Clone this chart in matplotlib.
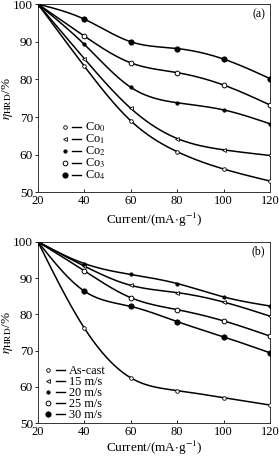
import numpy as np
import matplotlib
matplotlib.use("Agg")
import matplotlib.pyplot as plt
from matplotlib.lines import Line2D
from matplotlib.legend_handler import HandlerTuple

plt.rcParams['font.family'] = ['Liberation Serif', 'DejaVu Serif']
plt.rcParams['mathtext.fontset'] = 'stix'

current = [20, 40, 60, 80, 100, 120]

# Panel (a)
labels_a = ['Co$_0$', 'Co$_1$', 'Co$_2$', 'Co$_3$', 'Co$_4$']
co0 = [100, 83.5, 69.0, 60.8, 56.2, 53.0]
co1 = [100, 85.5, 72.3, 64.3, 61.3, 59.8]
co2 = [100, 89.3, 77.9, 73.8, 71.9, 68.2]
co3 = [100, 91.5, 84.4, 81.8, 78.5, 73.2]
co4 = [100, 96.0, 90.0, 88.2, 85.4, 80.2]
series_a = [co0, co1, co2, co3, co4]

# Panel (b)
labels_b = ['As-cast', '15 m/s', '20 m/s', '25 m/s', '30 m/s']
ascast = [100, 76.2, 62.5, 59.0, 57.0, 55.0]
v15 = [100, 93.3, 88.0, 86.0, 83.4, 79.5]
v20 = [100, 94.0, 91.0, 88.5, 84.8, 82.3]
v25 = [100, 92.0, 84.6, 81.3, 78.2, 74.0]
v30 = [100, 86.4, 82.2, 78.0, 73.8, 69.4]
series_b = [ascast, v15, v20, v25, v30]

xticks = [20, 40, 60, 80, 100, 120]
yticks = [50, 60, 70, 80, 90, 100]

markers = [dict(marker='o', ms=2.6, mfc='white', mec='black', mew=0.6),
           dict(marker='<', ms=2.8, mfc='white', mec='black', mew=0.6),
           dict(marker='o', ms=2.4, mfc='black', mec='black', mew=0.6),
           dict(marker='o', ms=3.4, mfc='white', mec='black', mew=0.7),
           dict(marker='o', ms=3.8, mfc='black', mec='black', mew=0.6)]


def spline(x, y, n=200):
    # natural cubic spline used only to draw the smooth connecting line
    x = np.asarray(x, float); y = np.asarray(y, float)
    m = len(x); h = np.diff(x)
    A = np.zeros((m, m)); b = np.zeros(m)
    A[0, 0] = A[-1, -1] = 1
    for i in range(1, m - 1):
        A[i, i - 1] = h[i - 1]; A[i, i] = 2 * (h[i - 1] + h[i]); A[i, i + 1] = h[i]
        b[i] = 3 * ((y[i + 1] - y[i]) / h[i] - (y[i] - y[i - 1]) / h[i - 1])
    c = np.linalg.solve(A, b)
    xs = np.linspace(x[0], x[-1], n)
    idx = np.clip(np.searchsorted(x, xs) - 1, 0, m - 2)
    dx = xs - x[idx]
    bb = (y[1:] - y[:-1]) / h - h * (2 * c[:-1] + c[1:]) / 3
    d = (c[1:] - c[:-1]) / (3 * h)
    ys = y[idx] + bb[idx] * dx + c[idx] * dx ** 2 + d[idx] * dx ** 3
    return xs, ys


fig = plt.figure(figsize=(2.79, 4.58), dpi=100)
ax_a = fig.add_axes([0.136, 0.580, 0.832, 0.411])
ax_b = fig.add_axes([0.136, 0.076, 0.832, 0.396])

panels = [(ax_a, series_a, labels_a, '(a)', (0.095, 0.38), -0.12, -0.098),
          (ax_b, series_b, labels_b, '(b)', (0.025, 0.32), -0.08, -0.088)]

for ax, series, labels, tag, legpos, lsp, xly in panels:
    handles = []
    for s, lab, mk in zip(series, labels, markers):
        xs, ys = spline(current, s)
        ax.plot(xs, ys, color='black', lw=1.1, zorder=2)
        ax.plot(current, s, ls='none', zorder=3, **mk)
        h_m = Line2D([], [], ls='none', **mk)
        h_l = Line2D([], [], color='black', lw=1.0)
        handles.append((h_m, h_l))
    ax.set_xlim(20, 120)
    ax.set_ylim(50, 100)
    ax.set_xticks(xticks)
    ax.set_yticks(yticks)
    ax.tick_params(axis='x', direction='in', length=2.5, width=0.6, labelsize=9, pad=2)
    ax.tick_params(axis='y', direction='out', length=2.5, width=0.6, labelsize=9.5, pad=1)
    for sp in ax.spines.values():
        sp.set_linewidth(0.7)
        sp.set_color('#333333')
    ax.set_xlabel('Current/(mA$\\cdot$g$^{-1}$)', fontsize=9.5)
    ax.xaxis.set_label_coords(0.5, xly)
    ax.set_ylabel('$\\eta_{\\rm HRD}$/%', fontsize=9.5)
    ax.yaxis.set_label_coords(-0.1, 0.5)
    ax.text(0.979, 0.979, tag, transform=ax.transAxes, ha='right', va='top', fontsize=8.5)
    ax.legend(handles, labels, loc='upper left', bbox_to_anchor=legpos,
              handler_map={tuple: HandlerTuple(ndivide=None, pad=0.25)},
              frameon=False, fontsize=8.8, handlelength=1.75, handletextpad=0.3,
              labelspacing=lsp, borderaxespad=0, borderpad=0)

fig.savefig('out.png', dpi=100)
